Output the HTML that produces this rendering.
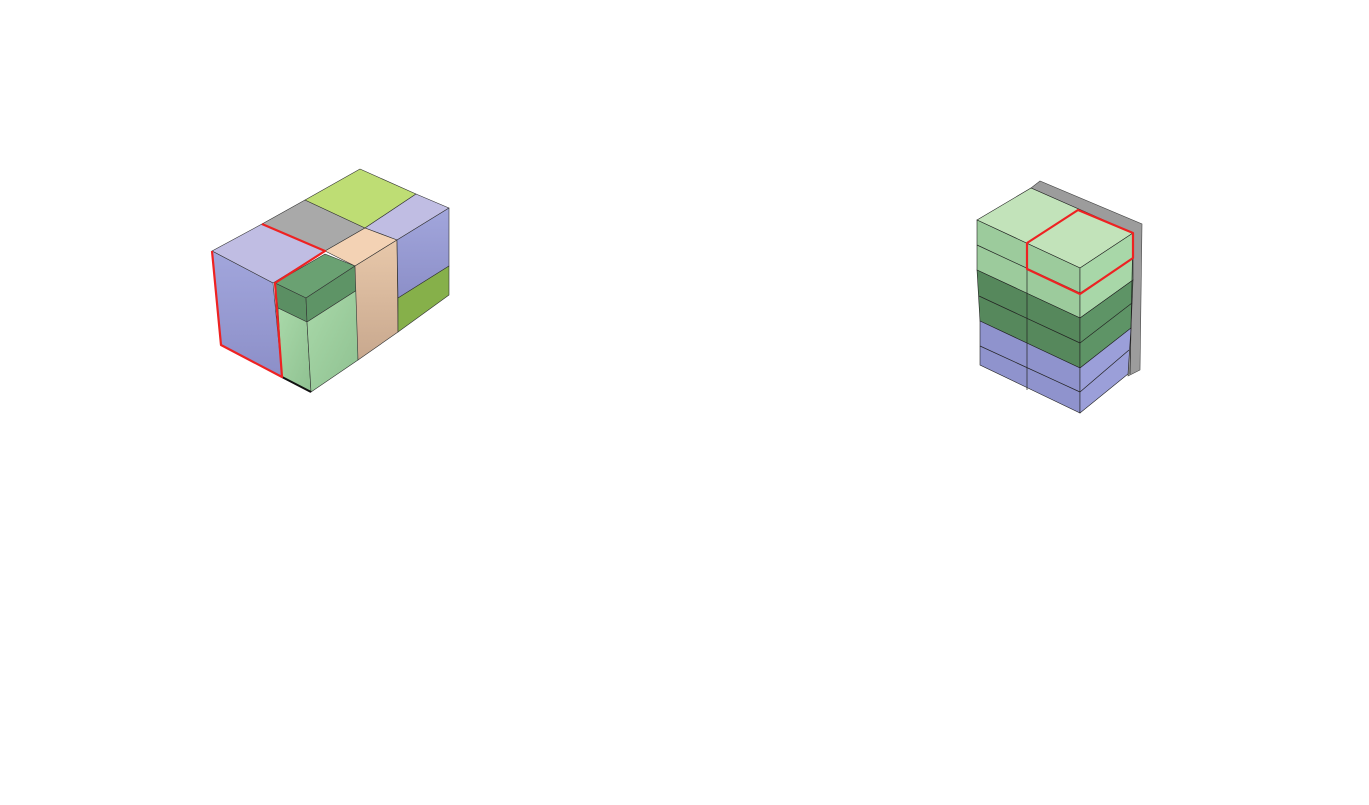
<!DOCTYPE html>
<html><head><meta charset="utf-8"><style>html,body{margin:0;padding:0;background:#fff}svg{display:block}</style></head>
<body>
<svg width="1369" height="805" viewBox="0 0 1369 805" xmlns="http://www.w3.org/2000/svg">
<defs>
<linearGradient id="lav" x1="0" y1="0" x2="0" y2="1"><stop offset="0" stop-color="#a2a6dc"/><stop offset="1" stop-color="#8c8fc8"/></linearGradient>
<linearGradient id="lg" x1="0" y1="0" x2="1" y2="1"><stop offset="0" stop-color="#a9d9a9"/><stop offset="1" stop-color="#8fc191"/></linearGradient>
<linearGradient id="pe" x1="0" y1="0" x2="0" y2="1"><stop offset="0" stop-color="#e8c8aa"/><stop offset="1" stop-color="#c8a88e"/></linearGradient>
</defs>
<g stroke="#333" stroke-width="0.6" stroke-linejoin="round">
<!-- left figure -->
<polygon points="212,251 262,224 325,251 273,283" fill="#c0bde3"/>
<polygon points="262,224 305,200 365,228 325,251" fill="#a9a9a9"/>
<polygon points="305,200 360,169 416,194 365,228" fill="#bedd74"/>
<polygon points="365,228 416,194 449,208 397,240" fill="#c0bde3"/>
<polygon points="325,251 365,228 397,240 355,266" fill="#f3d2b4"/>
<polygon points="212,251 273,283 282,377 221,345" fill="url(#lav)"/>
<polygon points="275,283 325,254 355,266 306,298" fill="#6aa172"/>
<polygon points="275,283 306,298 307,322 278,308" fill="#5b8f63"/>
<polygon points="306,298 355,266 357,290 307,322" fill="#5e9466"/>
<polygon points="278,308 307,322 311,392 282,377" fill="url(#lg)"/>
<polygon points="307,322 357,290 358,360 311,392" fill="url(#lg)"/>
<polygon points="355,266 397,240 398,332 358,360" fill="url(#pe)"/>
<polygon points="397,240 449,208 449,266 398,298" fill="url(#lav)"/>
<polygon points="398,298 449,266 449,295 398,332" fill="#86b04a"/>
</g>
<line x1="282" y1="377" x2="311" y2="392" stroke="#111" stroke-width="2"/>
<g fill="none" stroke="#ee2222" stroke-width="2.2" stroke-linejoin="round">
<polyline points="212,251 221,345 282,377 275,283 325,251 262,224"/>
</g>
<!-- right figure -->
<polygon points="1031,188 1040,181 1142,224 1140,370 1128,376 1133,233" fill="#9c9c9c" stroke="#444" stroke-width="0.6"/>
<g stroke="#222" stroke-width="0.6">
<polygon points="977,220 1031,188 1133,233 1080,268" fill="#c2e3ba"/>
<polygon points="977,220 1080,268 1080,318 977,270" fill="#9ccb9c"/>
<polygon points="977,270 1080,318 1080,368 980,321" fill="#56885c"/>
<polygon points="980,321 1080,368 1080,413 980,365" fill="#8f93cd"/>
<polygon points="1080,268 1133,233 1133,280 1080,318" fill="#a8d7a8"/>
<polygon points="1080,318 1133,280 1131,328 1080,368" fill="#5e9466"/>
<polygon points="1080,368 1131,328 1128,374 1080,413" fill="#9b9fd9"/>
</g>
<g stroke="#222" stroke-width="0.7" fill="none">
<line x1="977" y1="245" x2="1080" y2="293"/>
<line x1="979" y1="296" x2="1080" y2="343"/>
<line x1="980" y1="346" x2="1080" y2="392"/>
<line x1="1080" y1="293" x2="1133" y2="258"/>
<line x1="1080" y1="343" x2="1132" y2="303"/>
<line x1="1080" y1="392" x2="1129" y2="350"/>
<line x1="1027" y1="243" x2="1027" y2="390"/>
<line x1="1133" y1="233" x2="1130" y2="374"/>
</g>
<polygon points="1027,243 1078,210 1133,233 1133,258 1080,294 1027,269" fill="none" stroke="#ee2222" stroke-width="2.2" stroke-linejoin="round"/>
</svg>
</body></html>
